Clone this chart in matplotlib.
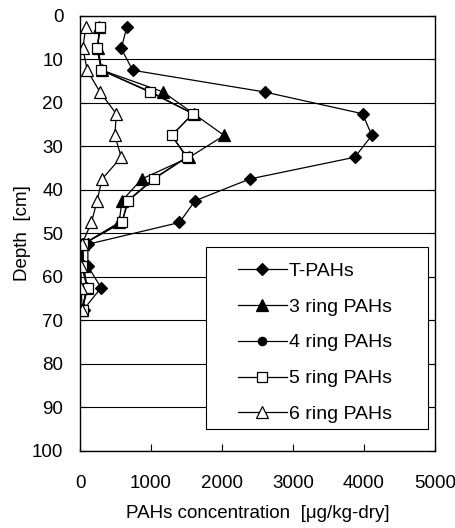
import matplotlib
matplotlib.use("Agg")
import matplotlib.pyplot as plt
from matplotlib.patches import Rectangle

plt.rcParams["font.family"] = ["Liberation Sans", "DejaVu Sans"]

# sample depths [cm]
depth = [2.5, 7.5, 12.5, 17.5, 22.5, 27.5, 32.5, 37.5, 42.5, 47.5, 52.5, 57.5, 62.5, 67.5]
# concentrations [ug/kg-dry]
t_pahs = [660, 580, 740, 2600, 3980, 4110, 3870, 2390, 1620, 1400, 110, 110, 295, 50]
ring3 = [270, 250, 310, 1170, 1600, 2030, 1540, 870, 590, 550, 40, 50, 100, 25]
ring4 = [290, 240, 300, 1000, 1590, 1290, 1500, 1030, 670, 590, 40, 30, 95, 30]
ring5 = [280, 240, 300, 980, 1590, 1290, 1510, 1040, 680, 590, 35, 25, 105, 35]
ring6 = [80, 40, 100, 280, 510, 490, 580, 310, 240, 160, 25, 14, 14, 30]

fig = plt.figure(figsize=(4.55, 5.28), dpi=100)
ax = fig.add_axes([0.176, 0.146, 0.78, 0.824])

kw = dict(color="black", lw=0.9, mec="black", mew=0.9)
ax.plot(t_pahs, depth, marker="D", ms=6.3, mfc="black", label="T-PAHs", **kw)
ax.plot(ring3, depth, marker="^", ms=8, mfc="black", label="3 ring PAHs", **kw)
ax.plot(ring4, depth, marker="o", ms=6, mfc="black", label="4 ring PAHs", **kw)
ax.plot(ring5, depth, marker="s", ms=6.8, mfc="white", label="5 ring PAHs", **kw)
ax.plot(ring6, depth, marker="^", ms=8, mfc="white", label="6 ring PAHs", **kw)

ax.set_xlim(0, 5000)
ax.set_ylim(100, 0)
ax.set_xticks(range(0, 5001, 1000))
ax.set_yticks(range(0, 101, 10))
ax.yaxis.grid(True, color="black", lw=0.8)
ax.set_axisbelow(True)
ax.tick_params(axis="x", direction="in", length=5, pad=17, labelsize=13.5)
ax.tick_params(axis="y", direction="in", length=4, pad=12, labelsize=13.5,
               right=True)
for s in ax.spines.values():
    s.set_linewidth(1.0)

ax.set_xlabel("PAHs concentration  [μg/kg-dry]", fontsize=13.5, labelpad=10)
ax.set_ylabel("Depth  [cm]", fontsize=13.5, labelpad=1)

# legend box (Excel style: wide side margins)
ax.add_patch(Rectangle((0.355, 0.05), 0.625, 0.418, transform=ax.transAxes,
                       facecolor="white", edgecolor="black", lw=0.8, zorder=4))
leg = ax.legend(loc="upper left", bbox_to_anchor=(0.445, 0.434), fontsize=14,
                frameon=False, handlelength=2.5, labelspacing=0.94,
                borderpad=0, handletextpad=0.1, borderaxespad=0)
leg.set_zorder(5)

fig.savefig("out.png", dpi=100, facecolor="white")
